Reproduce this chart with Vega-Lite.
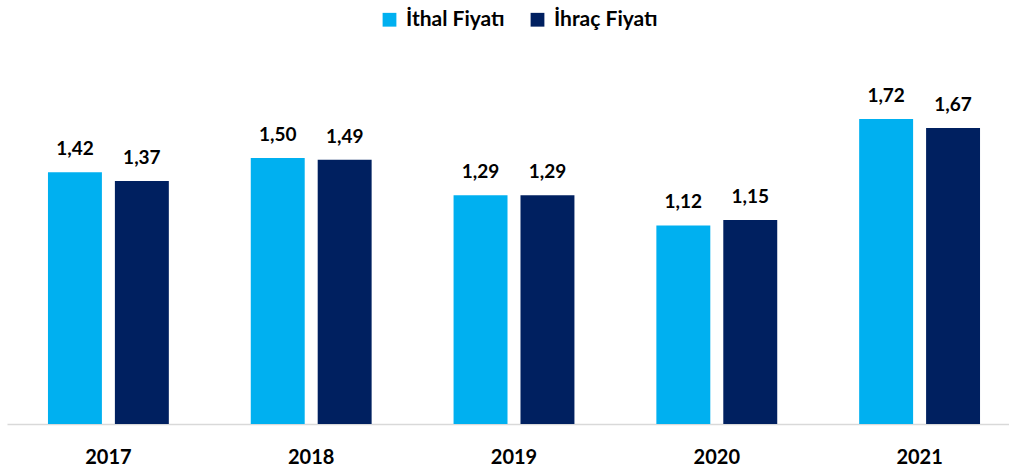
{
  "$schema": "https://vega.github.io/schema/vega-lite/v6.json",
  "autosize": {"type": "none"},
  "padding": {"left": 7, "top": 40, "right": 0, "bottom": 47},
  "width": 1014,
  "height": 384,
  "background": "white",
  "config": {
    "locale": {"number": {"decimal": ",", "thousands": ".", "grouping": [3], "currency": ["", " TL"]}},
    "view": {"stroke": null},
    "font": "Lato"
  },
  "data": {
    "values": [
      {"yil": "2017", "seri": "İthal Fiyatı", "deger": 1.42},
      {"yil": "2017", "seri": "İhraç Fiyatı", "deger": 1.37},
      {"yil": "2018", "seri": "İthal Fiyatı", "deger": 1.50},
      {"yil": "2018", "seri": "İhraç Fiyatı", "deger": 1.49},
      {"yil": "2019", "seri": "İthal Fiyatı", "deger": 1.29},
      {"yil": "2019", "seri": "İhraç Fiyatı", "deger": 1.29},
      {"yil": "2020", "seri": "İthal Fiyatı", "deger": 1.12},
      {"yil": "2020", "seri": "İhraç Fiyatı", "deger": 1.15},
      {"yil": "2021", "seri": "İthal Fiyatı", "deger": 1.72},
      {"yil": "2021", "seri": "İhraç Fiyatı", "deger": 1.67}
    ]
  },
  "encoding": {
    "x": {
      "field": "yil", "type": "nominal",
      "scale": {"paddingInner": 0.404, "paddingOuter": 0.202},
      "axis": {
        "title": null, "labelAngle": 0, "ticks": false,
        "domainColor": "#d9d9d9", "domainWidth": 1.5,
        "labelFont": "Lato", "labelFontWeight": "bold", "labelFontSize": 20,
        "labelColor": "#000000", "labelPadding": 23
      }
    },
    "xOffset": {
      "field": "seri", "type": "nominal",
      "sort": ["İthal Fiyatı", "İhraç Fiyatı"],
      "scale": {"paddingInner": 0.194, "paddingOuter": 0}
    },
    "y": {
      "field": "deger", "type": "quantitative",
      "scale": {"domain": [0, 2.166], "nice": false, "zero": true},
      "axis": null
    }
  },
  "layer": [
    {
      "mark": {"type": "bar"},
      "encoding": {
        "color": {
          "field": "seri", "type": "nominal",
          "sort": ["İthal Fiyatı", "İhraç Fiyatı"],
          "scale": {"domain": ["İthal Fiyatı", "İhraç Fiyatı"], "range": ["#00B0F0", "#002060"]},
          "legend": {
            "title": null, "orient": "none", "direction": "horizontal",
            "legendX": 372, "legendY": -31, "padding": 0,
            "symbolType": "square", "symbolSize": 190, "symbolStrokeWidth": 0,
            "labelFont": "Lato", "labelFontWeight": "bold", "labelFontSize": 21,
            "labelColor": "#000000", "columnPadding": 22, "labelOffset": 6
          }
        }
      }
    },
    {
      "mark": {"type": "text", "baseline": "bottom", "dy": -13, "font": "Lato", "fontWeight": "bold", "fontSize": 19, "color": "#000000"},
      "encoding": {
        "text": {"field": "deger", "type": "quantitative", "format": ".2f"}
      }
    }
  ]
}
